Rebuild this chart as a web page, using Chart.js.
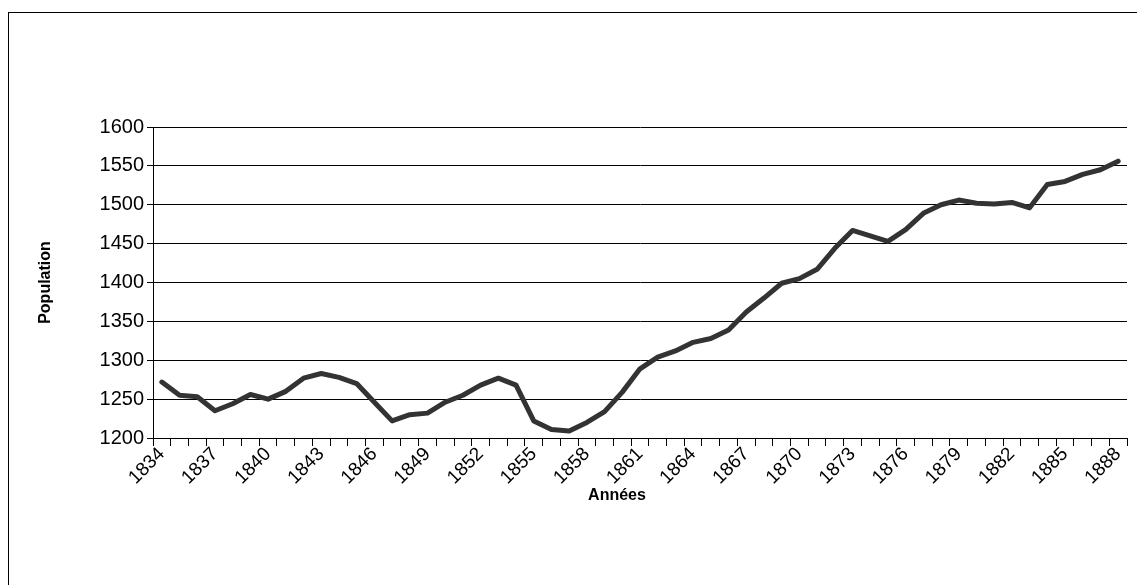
<!DOCTYPE html>
<html>
<head>
<meta charset="utf-8">
<script src="https://cdn.jsdelivr.net/npm/chart.js@4.4.0/dist/chart.umd.min.js"></script>
<style>
  html, body { margin: 0; padding: 0; background: #fff; }
</style>
</head>
<body>
<canvas id="popChart" width="1137" height="585"></canvas>
<script>
// Data
const years = [
  '1834', '1835', '1836', '1837', '1838', '1839', '1840', '1841', '1842', '1843',
  '1844', '1845', '1846', '1847', '1848', '1849', '1850', '1851', '1852', '1853',
  '1854', '1855', '1856', '1857', '1858', '1859', '1860', '1861', '1862', '1863',
  '1864', '1865', '1866', '1867', '1868', '1869', '1870', '1871', '1872', '1873',
  '1874', '1875', '1876', '1877', '1878', '1879', '1880', '1881', '1882', '1883',
  '1884', '1885', '1886', '1887', '1888'
];
const population = [
  1272, 1255, 1253, 1235, 1244, 1256, 1250, 1260, 1277, 1283,
  1278, 1270, 1246, 1222, 1230, 1232, 1246, 1255, 1268, 1277,
  1268, 1222, 1211, 1209, 1220, 1234, 1259, 1289, 1304, 1312,
  1323, 1328, 1339, 1362, 1380, 1399, 1405, 1417, 1444, 1467,
  1460, 1453, 1468, 1489, 1500, 1506, 1502, 1501, 1503, 1496,
  1526, 1530, 1539, 1545, 1556
];
const yMin = 1200;
const yMax = 1600;
const yStep = 50;
const labelEvery = 3;
const xTitle = 'Années';
const yTitle = 'Population';

const FONT = '"Liberation Sans", Arial, sans-serif';

// white background + outer frame like the spreadsheet chart
const framePlugin = {
  id: 'frame',
  beforeDraw(chart) {
    const c = chart.ctx;
    c.save();
    c.fillStyle = '#fff';
    c.fillRect(0, 0, chart.width, chart.height);
    c.strokeStyle = '#000';
    c.lineWidth = 1;
    c.strokeRect(8.5, 12.5, chart.width + 10, chart.height + 10);
    c.restore();
  },
  afterDraw(chart) {
    // x title sits a bit left of the plot centre in the original
    const c = chart.ctx;
    c.save();
    c.font = 'bold 16px ' + FONT;
    c.fillStyle = '#000';
    c.textAlign = 'center';
    c.textBaseline = 'middle';
    c.fillText(xTitle, 617, 496);
    c.restore();
  }
};

const ctx = document.getElementById('popChart').getContext('2d');

new Chart(ctx, {
  type: 'line',
  data: {
    labels: years,
    datasets: [{
      label: yTitle,
      data: population,
      borderColor: '#333333',
      borderWidth: 5,
      borderJoinStyle: 'round',
      borderCapStyle: 'round',
      pointRadius: 0,
      tension: 0,
      fill: false
    }]
  },
  options: {
    responsive: false,
    animation: false,
    layout: { padding: { top: 127, right: 10, left: 0, bottom: 0 } },
    plugins: {
      legend: { display: false },
      tooltip: { enabled: false }
    },
    scales: {
      x: {
        type: 'category',
        offset: true,
        afterFit: (scale) => { scale.height = 147; },
        grid: {
          offset: true,
          drawOnChartArea: false,
          drawTicks: true,
          tickLength: 8,
          color: '#000'
        },
        border: { display: true, color: '#000', width: 1 },
        ticks: {
          autoSkip: false,
          maxRotation: 45,
          minRotation: 45,
          padding: -3,
          color: '#000',
          font: { family: FONT, size: 19 },
          callback: function (val, idx) {
            return idx % labelEvery === 0 ? this.getLabelForValue(val) : '';
          }
        }
      },
      y: {
        min: yMin,
        max: yMax,
        afterFit: (scale) => { scale.width = 153; },
        grid: {
          color: '#000',
          tickLength: 6,
          lineWidth: 1
        },
        border: { display: true, color: '#000', width: 1 },
        ticks: {
          stepSize: yStep,
          padding: 3,
          color: '#000',
          font: { family: FONT, size: 20 },
          callback: (v) => String(v)
        },
        title: {
          display: true,
          text: yTitle,
          color: '#000',
          font: { family: FONT, size: 16, weight: 'bold' },
          padding: { top: 36, bottom: 0 }
        }
      }
    }
  },
  plugins: [framePlugin]
});
</script>
</body>
</html>
